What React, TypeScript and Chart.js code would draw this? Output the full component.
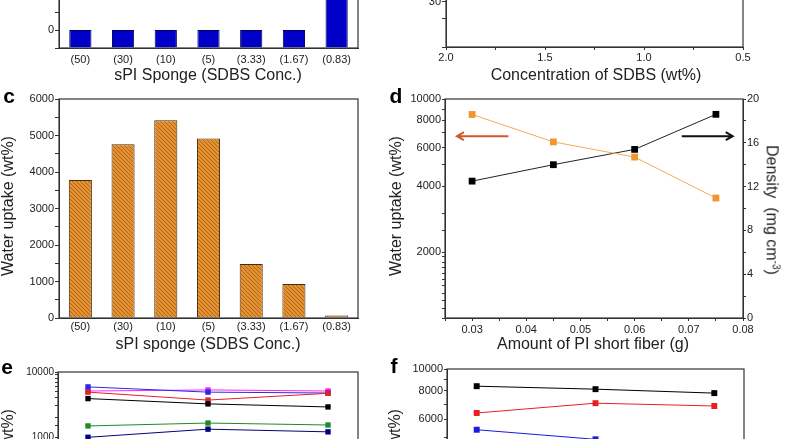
import React, { useEffect, useRef } from "react";
import { Chart, registerables } from "chart.js";

Chart.register(...registerables);
Chart.defaults.font.family = "'Liberation Sans', Arial, sans-serif";
Chart.defaults.color = "#222";

// ---------- data ----------
const spongeLabels = ["(50)", "(30)", "(10)", "(5)", "(3.33)", "(1.67)", "(0.83)"];
const panelAValues = [0, 0, 0, 0, 0, 0, 80];
const panelCValues = [3780, 4760, 5420, 4920, 1480, 930, 70];

const fiberAmounts = [0.03, 0.045, 0.06, 0.075];
const fiberUptake = [8500, 6370, 5430, 3530];
const fiberDensity = [12.5, 14.0, 15.4, 18.6];
const arrowFromX = [0.0367, 0.0687];
const arrowToX = [0.0272, 0.0781];
const arrowY = [16.6, 16.6];
const arrowColors = ["#d0582a", "#111111"];

const seriesX = [1, 2, 3];
const eBlack = [3900, 3230, 2900];
const eRed = [4900, 3700, 4700];
const eBlue = [5900, 4900, 4750];
const eMagenta = [5100, 5300, 5100];
const eGreen = [1480, 1640, 1530];
const eNavy = [990, 1320, 1200];

const fBlack = [8400, 8150, 7830];
const fRed = [6400, 7070, 6870];
const fBlue = [5400, 4900, 4300];

const dLeftLabels = [2000, 4000, 6000, 8000, 10000];
const fLeftLabels = [2000, 4000, 6000, 8000, 10000];

// ---------- helpers ----------
const AXIS = "#333";
const FONT = "'Liberation Sans', Arial, sans-serif";

const framePlugin = {
  id: "frame",
  afterDraw(chart: any) {
    const { ctx, chartArea: a } = chart;
    ctx.save();
    ctx.strokeStyle = AXIS;
    ctx.lineWidth = 1.2;
    ctx.strokeRect(a.left, a.top, a.right - a.left, a.bottom - a.top);
    ctx.restore();
  },
};

const arrowPlugin = {
  id: "arrows",
  afterDatasetsDraw(chart: any) {
    const xs = chart.scales.x;
    const ys = chart.scales.y1;
    const ctx = chart.ctx;
    for (let i = 0; i < arrowFromX.length; i++) {
      const x0 = xs.getPixelForValue(arrowFromX[i]);
      const x1 = xs.getPixelForValue(arrowToX[i]);
      const y = ys.getPixelForValue(arrowY[i]);
      const dir = Math.sign(x1 - x0);
      ctx.save();
      ctx.strokeStyle = arrowColors[i];
      ctx.lineWidth = 2;
      ctx.beginPath();
      ctx.moveTo(x0, y);
      ctx.lineTo(x1, y);
      ctx.moveTo(x1 - dir * 7, y - 4);
      ctx.lineTo(x1, y);
      ctx.lineTo(x1 - dir * 7, y + 4);
      ctx.stroke();
      ctx.restore();
    }
  },
};

function makeHatch(): any {
  const c = document.createElement("canvas");
  c.width = 4;
  c.height = 4;
  const g = c.getContext("2d")!;
  g.fillStyle = "#e29231";
  g.fillRect(0, 0, 4, 4);
  g.strokeStyle = "#b4651b";
  g.lineWidth = 1;
  g.beginPath();
  g.moveTo(-1, -1);
  g.lineTo(5, 5);
  g.moveTo(-1, 3);
  g.lineTo(1, 5);
  g.moveTo(3, -1);
  g.lineTo(5, 1);
  g.stroke();
  return g.createPattern(c, "repeat");
}

const baseOptions = (padding: any) => ({
  responsive: false,
  animation: false,
  devicePixelRatio: 1,
  layout: { padding },
  plugins: { legend: { display: false }, tooltip: { enabled: false } },
});

const gridOut = (len: number) => ({
  drawOnChartArea: false,
  tickLength: len,
  color: AXIS,
  tickColor: AXIS,
});

const lineSet = (xs: number[], ys: number[], color: string, r: number, extra: any = {}) => ({
  data: xs.map((x, i) => ({ x, y: ys[i] })),
  borderColor: color,
  backgroundColor: color,
  borderWidth: 1,
  pointStyle: "rect",
  pointRadius: r,
  pointBorderWidth: 0,
  pointBackgroundColor: color,
  tension: 0,
  ...extra,
});

type Box = { left: number; top: number; width: number; height: number };

function ChartCanvas({ box, make }: { box: Box; make: () => any }) {
  const ref = useRef<HTMLCanvasElement | null>(null);
  useEffect(() => {
    if (!ref.current) return;
    const chart = new Chart(ref.current, make());
    return () => chart.destroy();
  }, []);
  return (
    <canvas
      ref={ref}
      width={box.width}
      height={box.height}
      style={{ position: "absolute", left: box.left, top: box.top, width: box.width, height: box.height }}
    />
  );
}

function Label({ x, y, size = 16, rotate = 0, bold = false, children }: any) {
  return (
    <div
      style={{
        position: "absolute",
        left: x,
        top: y,
        transform: `translate(-50%, -50%) rotate(${rotate}deg)`,
        fontSize: size,
        fontWeight: bold ? 700 : 400,
        lineHeight: 1,
        whiteSpace: "pre",
        fontFamily: FONT,
        color: bold ? "#000" : "#222",
      }}
    >
      {children}
    </div>
  );
}

// ---------- chart configs ----------
const makeA = () => ({
  type: "bar",
  data: {
    labels: spongeLabels,
    datasets: [
      {
        data: panelAValues,
        base: -10,
        backgroundColor: "#0000c8",
        borderColor: "#00005a",
        borderWidth: 1,
        barPercentage: 0.52,
        categoryPercentage: 1,
      },
    ],
  },
  options: {
    ...baseOptions({ top: 10, left: 0, right: 42, bottom: 4 }),
    scales: {
      x: {
        afterFit: (s: any) => { s.height = 24; },
        grid: { display: false, drawTicks: false },
        border: { color: AXIS },
        ticks: { font: { size: 11 }, padding: 5, autoSkip: false, maxRotation: 0 },
      },
      y: {
        min: -10,
        max: 100,
        afterFit: (s: any) => { s.width = 59; },
        grid: gridOut(4),
        border: { color: AXIS },
        ticks: {
          stepSize: 10,
          autoSkip: false,
          padding: 1,
          font: { size: 11 },
          callback: (v: number) => (v >= 0 && v % 20 === 0 ? String(v) : ""),
        },
      },
    },
  },
  plugins: [framePlugin],
});

const makeB = () => ({
  type: "line",
  data: { datasets: [{ data: [] as any[] }] },
  options: {
    ...baseOptions({ top: 10, left: 0, right: 42, bottom: 4 }),
    scales: {
      x: {
        type: "linear",
        reverse: true,
        min: 0.5,
        max: 2.0,
        afterFit: (s: any) => { s.height = 22; },
        grid: gridOut(3),
        border: { color: AXIS },
        ticks: {
          stepSize: 0.25,
          autoSkip: false,
          maxRotation: 0,
          padding: 1,
          font: { size: 11 },
          callback: (v: number) =>
            Math.abs(v * 2 - Math.round(v * 2)) < 1e-6 ? v.toFixed(1) : "",
        },
      },
      y: {
        min: -10,
        max: 150,
        afterFit: (s: any) => { s.width = 46; },
        grid: gridOut(4),
        border: { color: AXIS },
        ticks: {
          stepSize: 15,
          autoSkip: false,
          padding: 1,
          font: { size: 11 },
          callback: (v: number) => (v >= 0 && v % 30 === 0 ? String(v) : ""),
        },
      },
    },
  },
  plugins: [framePlugin],
});

const makeC = () => ({
  type: "bar",
  data: {
    labels: spongeLabels,
    datasets: [
      {
        data: panelCValues,
        backgroundColor: makeHatch(),
        borderColor: "#4a2c0c",
        borderWidth: 1,
        barPercentage: 0.54,
        categoryPercentage: 1,
      },
    ],
  },
  options: {
    ...baseOptions({ top: 10, left: 0, right: 42, bottom: 9 }),
    scales: {
      x: {
        afterFit: (s: any) => { s.height = 22; },
        grid: { display: false, drawTicks: false },
        border: { color: AXIS },
        ticks: { font: { size: 11 }, padding: 2, autoSkip: false, maxRotation: 0 },
      },
      y: {
        min: 0,
        max: 6000,
        afterFit: (s: any) => { s.width = 59; },
        grid: gridOut(4),
        border: { color: AXIS },
        ticks: {
          stepSize: 500,
          autoSkip: false,
          padding: 1,
          font: { size: 11 },
          callback: (v: number) => (v % 1000 === 0 ? String(v) : ""),
        },
      },
    },
  },
  plugins: [framePlugin],
});

const makeD = () => ({
  type: "line",
  data: {
    datasets: [
      lineSet(fiberAmounts, fiberUptake, "#f0962e", 4.8, { yAxisID: "y", borderColor: "#f2aa5a" }),
      lineSet(fiberAmounts, fiberDensity, "#000000", 4.8, { yAxisID: "y1", borderColor: "#222" }),
    ],
  },
  options: {
    ...baseOptions({ top: 10, left: 0, right: 12, bottom: 9 }),
    scales: {
      x: {
        type: "linear",
        min: 0.025,
        max: 0.08,
        afterFit: (s: any) => { s.height = 22; },
        grid: gridOut(3),
        border: { color: AXIS },
        ticks: {
          stepSize: 0.005,
          autoSkip: false,
          maxRotation: 0,
          padding: 2,
          font: { size: 11 },
          callback: (v: number) => {
            const r = Math.round(v * 1000);
            return r % 10 === 0 ? (r / 1000).toFixed(2) : "";
          },
        },
      },
      y: {
        type: "logarithmic",
        position: "left",
        min: 1000,
        max: 10000,
        afterFit: (s: any) => { s.width = 45; },
        grid: gridOut(3),
        border: { color: AXIS },
        ticks: {
          autoSkip: false,
          padding: 1,
          font: { size: 11 },
          callback: (v: number) => (dLeftLabels.includes(Math.round(v)) ? String(Math.round(v)) : ""),
        },
      },
      y1: {
        type: "linear",
        position: "right",
        min: 0,
        max: 20,
        afterFit: (s: any) => { s.width = 30; },
        grid: gridOut(3),
        border: { color: AXIS },
        ticks: {
          stepSize: 2,
          autoSkip: false,
          padding: 1,
          font: { size: 11 },
          callback: (v: number) => (v % 4 === 0 ? String(v) : ""),
        },
      },
    },
  },
  plugins: [framePlugin, arrowPlugin],
});

const makeE = () => ({
  type: "line",
  data: {
    datasets: [
      lineSet(seriesX, eNavy, "#000080", 3.8),
      lineSet(seriesX, eGreen, "#1f8a2a", 3.8),
      lineSet(seriesX, eBlack, "#000000", 3.8),
      lineSet(seriesX, eRed, "#e0202a", 3.8),
      lineSet(seriesX, eBlue, "#2a2ae6", 3.8),
      lineSet(seriesX, eMagenta, "#ff22ff", 3.8),
    ],
  },
  options: {
    ...baseOptions({ top: 10, left: 0, right: 42, bottom: 13 }),
    scales: {
      x: {
        type: "linear",
        min: 0.75,
        max: 3.25,
        afterFit: (s: any) => { s.height = 22; },
        grid: gridOut(3),
        border: { color: AXIS },
        ticks: { stepSize: 1, font: { size: 11 }, autoSkip: false },
      },
      y: {
        type: "logarithmic",
        min: 10,
        max: 10000,
        afterFit: (s: any) => { s.width = 58; },
        grid: gridOut(3),
        border: { color: AXIS },
        ticks: {
          autoSkip: false,
          padding: 1,
          font: { size: 10 },
          callback: (v: number) => {
            const l = Math.log10(v);
            return Math.abs(l - Math.round(l)) < 1e-9 ? String(Math.round(v)) : "";
          },
        },
      },
    },
  },
  plugins: [framePlugin],
});

const makeF = () => ({
  type: "line",
  data: {
    datasets: [
      lineSet(seriesX, fBlue, "#1a1ae0", 4.2),
      lineSet(seriesX, fRed, "#e82020", 4.2),
      lineSet(seriesX, fBlack, "#000000", 4.2),
    ],
  },
  options: {
    ...baseOptions({ top: 10, left: 0, right: 41, bottom: 11 }),
    scales: {
      x: {
        type: "linear",
        min: 0.75,
        max: 3.25,
        afterFit: (s: any) => { s.height = 22; },
        grid: gridOut(3),
        border: { color: AXIS },
        ticks: { stepSize: 1, font: { size: 11 }, autoSkip: false },
      },
      y: {
        type: "logarithmic",
        min: 1000,
        max: 10000,
        afterFit: (s: any) => { s.width = 47; },
        grid: gridOut(3),
        border: { color: AXIS },
        ticks: {
          autoSkip: false,
          padding: 1,
          font: { size: 11 },
          callback: (v: number) => (fLeftLabels.includes(Math.round(v)) ? String(Math.round(v)) : ""),
        },
      },
    },
  },
  plugins: [framePlugin],
});

export default function App() {
  return (
    <div
      style={{
        position: "fixed",
        left: 0,
        top: 0,
        width: 785,
        height: 439,
        overflow: "hidden",
        background: "#fff",
      }}
    >
      <ChartCanvas box={{ left: 0, top: -160, width: 400, height: 236 }} make={makeA} />
      <ChartCanvas box={{ left: 400, top: -144, width: 385, height: 217 }} make={makeB} />
      <ChartCanvas box={{ left: 0, top: 89, width: 400, height: 260 }} make={makeC} />
      <ChartCanvas box={{ left: 400, top: 89, width: 385, height: 260 }} make={makeD} />
      <ChartCanvas box={{ left: 0, top: 362, width: 400, height: 240 }} make={makeE} />
      <ChartCanvas box={{ left: 400, top: 359, width: 385, height: 270 }} make={makeF} />

      <Label x={208} y={75}>sPI Sponge (SDBS Conc.)</Label>
      <Label x={596} y={75}>Concentration of SDBS (wt%)</Label>
      <Label x={208} y={344}>sPI sponge (SDBS Conc.)</Label>
      <Label x={593} y={344}>Amount of PI short fiber (g)</Label>

      <Label x={8} y={206} rotate={-90}>Water uptake (wt%)</Label>
      <Label x={396} y={206} rotate={-90}>Water uptake (wt%)</Label>
      <Label x={772} y={210} rotate={90}>
        {"Density  (mg cm"}
        <sup style={{ fontSize: 10 }}>-3</sup>
        {")"}
      </Label>
      <Label x={8} y={479} rotate={-90}>Water uptake (wt%)</Label>
      <Label x={395} y={479} rotate={-90}>Water uptake (wt%)</Label>

      <Label x={9} y={95} size={21} bold>c</Label>
      <Label x={396} y={95} size={21} bold>d</Label>
      <Label x={7} y={366} size={21} bold>e</Label>
      <Label x={394} y={365} size={21} bold>f</Label>
    </div>
  );
}
